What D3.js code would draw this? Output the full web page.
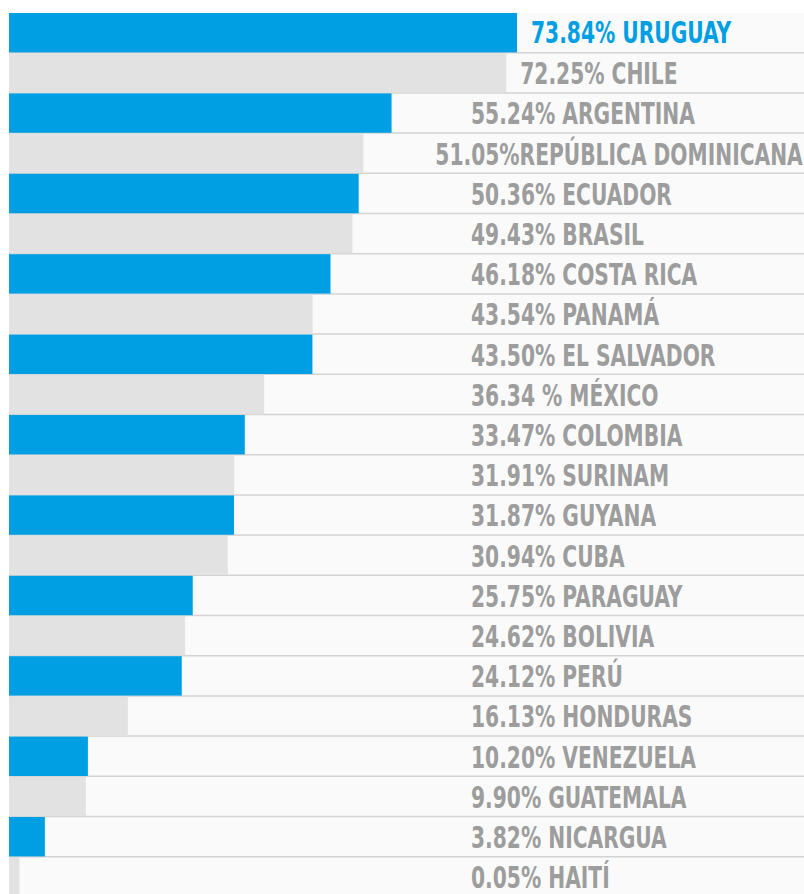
<!DOCTYPE html>
<html><head><meta charset="utf-8">
<script src="https://cdn.jsdelivr.net/npm/d3@7"></script>
<style>
html,body{margin:0;padding:0;background:#fff;}
svg{display:block;}
text{font-family:"DejaVu Sans Condensed","DejaVu Sans",sans-serif;font-weight:bold;font-stretch:condensed;}
</style></head>
<body>
<svg id="c" width="804" height="894"></svg>
<script>
const countries = ["URUGUAY","CHILE","ARGENTINA","REPÚBLICA DOMINICANA","ECUADOR","BRASIL","COSTA RICA","PANAMÁ","EL SALVADOR","MÉXICO","COLOMBIA","SURINAM","GUYANA","CUBA","PARAGUAY","BOLIVIA","PERÚ","HONDURAS","VENEZUELA","GUATEMALA","NICARGUA","HAITÍ"];
const values = [73.84,72.25,55.24,51.05,50.36,49.43,46.18,43.54,43.50,36.34,33.47,31.91,31.87,30.94,25.75,24.62,24.12,16.13,10.20,9.90,3.82,0.05];
const valueLabels = ["73.84% ","72.25% ","55.24% ","51.05%","50.36% ","49.43% ","46.18% ","43.54% ","43.50% ","36.34 % ","33.47% ","31.91% ","31.87% ","30.94% ","25.75% ","24.62% ","24.12% ","16.13% ","10.20% ","9.90% ","3.82% ","0.05% "];

const W = 804, H = 894;
const mLeft = 9, mTop = 13, rowH = 40.2;
const blue = "#009fe3", grey = "#e2e2e2", bg = "#fafafa", sepColor = "#d3d3d3", txt = "#9d9d9d";
const sx = 0.75;

const svg = d3.select("#c");
const x = d3.scaleLinear().domain([-1.5, 73.84]).range([mLeft, 517]);
const y = d3.scaleBand().domain(countries).range([mTop, mTop + rowH * countries.length]).padding(0);

svg.append("rect").attr("x", mLeft).attr("y", mTop).attr("width", W - mLeft).attr("height", H - mTop).attr("fill", bg);

svg.selectAll("line.sep").data(countries.slice(0, -1)).join("line")
  .attr("class", "sep")
  .attr("x1", mLeft).attr("x2", W)
  .attr("y1", d => y(d) + y.bandwidth() - 0.5).attr("y2", d => y(d) + y.bandwidth() - 0.5)
  .attr("stroke", sepColor).attr("stroke-width", 1.5);

svg.selectAll("rect.bar").data(countries).join("rect")
  .attr("class", "bar")
  .attr("x", mLeft)
  .attr("y", d => y(d))
  .attr("width", (d, i) => x(values[i]) - mLeft)
  .attr("height", y.bandwidth() - 0.8)
  .attr("fill", (d, i) => i % 2 === 0 ? blue : grey);

const t = svg.selectAll("text.lab").data(countries).join("text")
  .attr("class", "lab")
  .attr("font-size", 30)
  .attr("fill", (d, i) => i === 0 ? blue : txt)
  .text((d, i) => valueLabels[i] + d);

t.each(function(d, i) {
  const w = this.getComputedTextLength() * sx;
  let tx = Math.max(471, x(values[i]) + 14);
  if (tx + w > W - 1) tx = W - 1 - w;
  const dy = i === 0 ? 29.5 : 31;
  d3.select(this).attr("transform", `translate(${tx},${y(d) + dy}) scale(${sx},1)`);
});
</script>
</body></html>
